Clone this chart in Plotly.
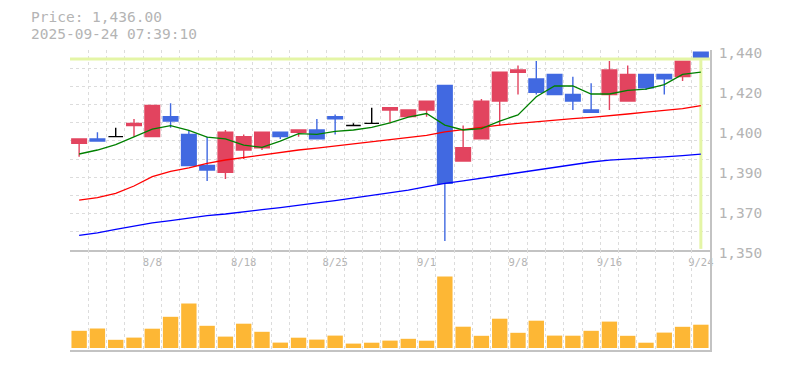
import plotly.graph_objects as go

dates = ['8/4', '8/5', '8/6', '8/7', '8/8', '8/12', '8/13', '8/14', '8/15', '8/18',
         '8/19', '8/20', '8/21', '8/22', '8/25', '8/26', '8/27', '8/28', '8/29', '9/1',
         '9/2', '9/3', '9/4', '9/5', '9/8', '9/9', '9/10', '9/11', '9/12', '9/16',
         '9/17', '9/18', '9/19', '9/22', '9/24']
open_ = [1398, 1400, 1401, 1406, 1401, 1410, 1402, 1388, 1385, 1395,
         1396, 1403, 1403, 1404, 1410, 1406, 1407, 1413, 1410, 1413,
         1424, 1390, 1400, 1417, 1430, 1427, 1429, 1420, 1413, 1420,
         1417, 1429, 1429, 1428, 1439]
high = [1400, 1403, 1405, 1409, 1415, 1416, 1404, 1401, 1404, 1402,
        1403, 1403, 1404, 1409, 1411, 1407, 1414, 1414, 1413, 1417,
        1424, 1406, 1418, 1430, 1433, 1435, 1429, 1428, 1425, 1435,
        1433, 1429, 1429, 1435, 1439]
low = [1392, 1399, 1401, 1401, 1401, 1405, 1388, 1381, 1382, 1391,
       1395, 1400, 1401, 1400, 1402, 1406, 1407, 1407, 1410, 1410,
       1354, 1390, 1400, 1406, 1420, 1420, 1420, 1413, 1412, 1413,
       1417, 1422, 1420, 1426, 1429]
close = [1400, 1399, 1401, 1407, 1415, 1408, 1388, 1386, 1403, 1401,
         1403, 1401, 1404, 1400, 1409, 1406, 1407, 1414, 1413, 1417,
         1380, 1396, 1417, 1430, 1431, 1421, 1420, 1417, 1412, 1431,
         1429, 1423, 1427, 1435, 1436]
ma5 = [1393.2, 1395.0, 1397.4, 1401.0, 1404.4, 1406.0, 1403.8, 1400.8, 1400.0, 1397.2,
       1396.2, 1399.0, 1402.4, 1402.0, 1403.4, 1404.0, 1405.2, 1407.2, 1409.8, 1411.4,
       1406.2, 1404.0, 1404.6, 1408.0, 1410.8, 1419.0, 1423.8, 1423.8, 1420.2, 1420.2,
       1421.8, 1422.4, 1424.4, 1429.0, 1430.0]
ma25 = [1372.4, 1373.6, 1375.5, 1378.8, 1383.0, 1385.4, 1387.0, 1389.0, 1390.5, 1391.6,
        1392.9, 1394.0, 1395.0, 1395.8, 1396.8, 1397.9, 1398.9, 1399.8, 1400.6, 1401.6,
        1403.2, 1404.3, 1405.2, 1406.2, 1407.0, 1407.8, 1408.5, 1409.1, 1409.7, 1410.3,
        1411.2, 1412.0, 1412.7, 1413.6, 1415.0]
ma75 = [1356.6, 1357.7, 1359.3, 1360.8, 1362.2, 1363.2, 1364.4, 1365.5, 1366.2, 1367.3,
        1368.2, 1369.1, 1370.3, 1371.2, 1372.2, 1373.3, 1374.5, 1375.5, 1376.9, 1378.5,
        1380.0, 1381.1, 1382.3, 1383.5, 1384.8, 1386.2, 1387.4, 1388.6, 1389.6, 1390.4,
        1390.8, 1391.3, 1391.9, 1392.5, 1393.1]
volume = [172, 195, 82, 104, 193, 312, 445, 222, 114, 243,
          162, 54, 103, 84, 124, 44, 53, 74, 92, 73,
          714, 213, 122, 293, 152, 273, 124, 123, 172, 264,
          122, 53, 154, 212, 233]
label_dates = ['8/8', '8/18', '8/25', '9/1', '9/8', '9/16', '9/24']
ytick_vals = [1350, 1368, 1386, 1404, 1422, 1440]
ytick_text = ['1,350', '1,370', '1,390', '1,400', '1,420', '1,440']
title_lines = ['Price: 1,436.00', '2025-09-24 07:39:10']

W, H = 785, 370
idx = list(range(len(dates)))
RED = '#e2445f'
BLUE = '#4169e1'
GRID = '#dcdcdc'
AXIS = '#c3c3c3'
TXT = '#b4b4b4'
MONO = 'DejaVu Sans Mono'
YELLOW = '#e4f5a6'
Y_MIN, Y_MAX = 1350, 1440
X_MIN, X_MAX = -0.5, len(dates) - 0.5


def py(px):
    return 1 - px / H


up = [i for i in idx if close[i] > open_[i]]
dn = [i for i in idx if close[i] < open_[i]]
dj = [i for i in idx if close[i] == open_[i]]


def sub(lst, ids):
    return [lst[i] for i in ids]


fig = go.Figure()

last = len(dates) - 1
# latest price marker lines (drawn first so they sit under the candles)
fig.add_trace(go.Scatter(x=[X_MIN, X_MAX], y=[close[last], close[last]], mode='lines',
                         line=dict(color=YELLOW, width=3), xaxis='x', yaxis='y',
                         showlegend=False, hoverinfo='skip'))
fig.add_trace(go.Scatter(x=[last, last], y=[Y_MIN + 0.5, close[last]], mode='lines',
                         line=dict(color=YELLOW, width=3), xaxis='x', yaxis='y',
                         showlegend=False, hoverinfo='skip'))

for ids, col in ((up, RED), (dn, BLUE), (dj, '#000000')):
    fig.add_trace(go.Candlestick(
        x=ids, open=sub(open_, ids), high=sub(high, ids), low=sub(low, ids), close=sub(close, ids),
        increasing=dict(line=dict(color=col, width=1.4), fillcolor=col),
        decreasing=dict(line=dict(color=col, width=1.4), fillcolor=col),
        whiskerwidth=0, xaxis='x', yaxis='y', showlegend=False, hoverinfo='skip'))

for vals, col in ((ma75, '#0000ff'), (ma25, '#ff0000'), (ma5, '#008000')):
    fig.add_trace(go.Scatter(x=idx, y=vals, mode='lines', line=dict(color=col, width=1.3),
                             xaxis='x', yaxis='y', showlegend=False, hoverinfo='skip'))

fig.add_trace(go.Bar(x=idx, y=volume, marker=dict(color='#fdb735', line=dict(width=0)),
                     xaxis='x2', yaxis='y2', showlegend=False, hoverinfo='skip'))

xdom = [70 / W, 710 / W]
grid_x = [i - 0.5 for i in range(len(dates) + 1)]
grid_y = [Y_MIN + k * (Y_MAX - Y_MIN) / 11 for k in range(12)]

fig.update_layout(
    width=W, height=H, margin=dict(l=0, r=0, t=0, b=0, pad=0, autoexpand=False),
    paper_bgcolor='white', plot_bgcolor='white',
    boxgap=0.2, boxgroupgap=0, bargap=0.16,
    xaxis=dict(domain=xdom, range=[X_MIN, X_MAX], rangeslider=dict(visible=False),
               automargin=False,
               tickmode='array', tickvals=[dates.index(d) for d in label_dates], ticktext=label_dates,
               showgrid=False, zeroline=False, showline=True, linecolor=AXIS, linewidth=1.5,
               ticks='', tickfont=dict(family=MONO, size=10.5, color=TXT),
               ticklabelstandoff=2,
               minor=dict(tickmode='array', tickvals=grid_x, showgrid=True, gridcolor=GRID,
                          griddash='3px,3px', gridwidth=1, ticks=''),
               anchor='y'),
    yaxis=dict(domain=[py(250), py(50)], range=[Y_MIN, Y_MAX], side='right',
               automargin=False,
               tickmode='array', tickvals=ytick_vals, ticktext=ytick_text,
               showgrid=False, zeroline=False, showline=True, linecolor=AXIS, linewidth=1.5,
               ticks='', tickfont=dict(family=MONO, size=14.5, color=TXT),
               ticklabelshift=3, ticklabelstandoff=4,
               minor=dict(tickmode='array', tickvals=grid_y, showgrid=True, gridcolor=GRID,
                          griddash='3px,3px', gridwidth=1, ticks=''),
               anchor='x'),
    xaxis2=dict(domain=xdom, range=[X_MIN, X_MAX], showticklabels=False, automargin=False,
                showgrid=False, zeroline=False, showline=True, linecolor=AXIS, linewidth=1.5,
                ticks='',
                minor=dict(tickmode='array', tickvals=grid_x, showgrid=True, gridcolor=GRID,
                           griddash='3px,3px', gridwidth=1, ticks=''),
                anchor='y2'),
    yaxis2=dict(domain=[py(350), py(250)], range=[-20, 980], side='right', showticklabels=False,
                automargin=False,
                showgrid=False, zeroline=False, showline=True, linecolor=AXIS, linewidth=1.5,
                ticks='', anchor='x2'),
)

for txt, ypx in zip(title_lines, (17.5, 34)):
    fig.add_annotation(text=txt, xref='paper', yref='paper', x=29 / W, y=py(ypx),
                       xanchor='left', yanchor='middle', showarrow=False,
                       font=dict(family=MONO, size=14.5, color=TXT))

fig.write_html('out.html')
